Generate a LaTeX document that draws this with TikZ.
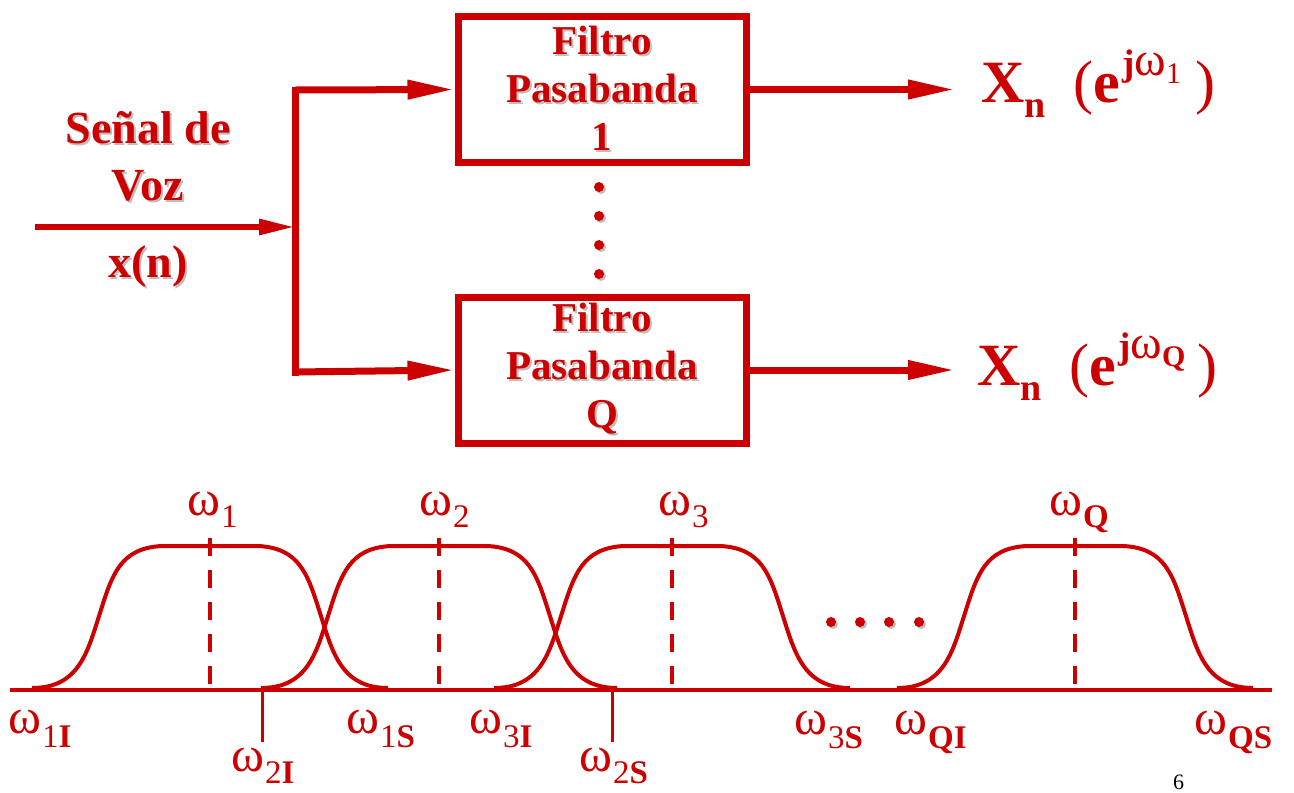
\documentclass[tikz,border=0pt]{standalone}
\usepackage{fontspec}
\setmainfont{Liberation Serif}
\usetikzlibrary{arrows.meta}
\definecolor{rd}{HTML}{CC0000}
\definecolor{shd}{HTML}{BEBEBE}
\newcommand\shd[1]{\rlap{\kern2pt\raisebox{-2pt}{\textcolor{shd}{#1}}}#1}
\newcommand\wsub[2]{{\fontsize{50}{50}\selectfont ω}\kern1pt\raisebox{-#1}{\fontsize{33}{33}\selectfont #2}}
\begin{document}
\begin{tikzpicture}[x=1pt,y=-1pt,
  fbox/.style={draw=rd, line width=7pt, minimum width=288pt, minimum height=146pt,
    inner sep=0pt, align=center, text=rd, font=\fontsize{41}{48}\selectfont\bfseries},
  wire/.style={draw=rd, line width=7pt},
  bigtip/.style={-{Triangle[length=47pt,width=18pt]}},
  intext/.style={text=rd, inner sep=0pt, align=center, font=\fontsize{46}{57}\selectfont\bfseries},
  outlbl/.style={text=rd, inner sep=0pt, anchor=base west, font=\fontsize{60}{60}\selectfont\bfseries},
  wlab/.style={text=rd, inner sep=0pt, anchor=base west},
  curve/.style={draw=rd, line width=4pt},
  centerline/.style={draw=rd, line width=4pt, dash pattern=on 18pt off 14pt},
  tickline/.style={draw=rd, line width=3pt},
  dotc/.style={fill=rd},
  dots/.style={fill=shd}
]
\useasboundingbox (0,0) rectangle (1294,793);

% filter boxes
\node[fbox] (f1) at (602,89.5) {\shd{Filtro}\\\shd{Pasabanda}\\\shd{1}};
\node[fbox] (f2) at (602,370) {\shd{Filtro}\\\shd{Pasabanda}\\\shd{Q}};

% input label
\node[intext, anchor=south] (sig) at (148,203) {\shd{Señal de}\\\shd{Voz}};
\node[intext, anchor=base] (xn) at (148,277) {\shd{x(n)}};

% input connector and branch
\coordinate (in) at (35,227);
\coordinate (br) at (295,227);
\coordinate (btop) at (295,90);
\coordinate (bbot) at (295,372);
\draw[draw=rd, line width=6pt, -{Triangle[length=36pt,width=15pt]}] (in) -- (br);
\draw[wire, line cap=rect] (btop) -- (bbot);
\draw[wire, bigtip] (btop) -- (f1.west);
\draw[wire, bigtip] (bbot) -- (f2.west);

% outputs
\coordinate (o1) at (955,89.5);
\coordinate (o2) at (955,370);
\draw[wire, bigtip] (f1.east) -- (o1);
\draw[wire, bigtip] (f2.east) -- (o2);
\node[outlbl] (y1) at (981,102) {X\raisebox{-15pt}{\fontsize{38}{38}\selectfont n}\hspace{28pt}{\mdseries(}e\kern2pt\raisebox{27pt}{\fontsize{37}{37}\selectfont j{\mdseries\fontsize{48}{48}\selectfont ω}\raisebox{-8pt}{\mdseries\fontsize{30}{30}\selectfont 1}}\hspace{14pt}{\mdseries)}};
\node[outlbl] (yQ) at (977,385) {X\raisebox{-15pt}{\fontsize{38}{38}\selectfont n}\hspace{28pt}{\mdseries(}e\kern2pt\raisebox{27pt}{\fontsize{37}{37}\selectfont j{\mdseries\fontsize{48}{48}\selectfont ω}\raisebox{-8pt}{\fontsize{30}{30}\selectfont Q}}\hspace{12pt}{\mdseries)}};

% vertical dots between boxes
\foreach \yy in {187,216,245,274} {
  \fill[dots] (601,\yy+2) circle[radius=5pt];
  \fill[dotc] (599,\yy) circle[radius=5pt];
}

% frequency axis
\draw[draw=rd, line width=4.5pt] (10,690) -- (1272,690);

% band-pass responses
\foreach \a in {32,261,494,897} {
  \draw[curve] (\a,688) .. controls ({\a+48},688) and ({\a+56},650) .. ({\a+68},613)
     .. controls ({\a+80},575) and ({\a+88},548) .. ({\a+130},546)
     -- ({\a+226},546)
     .. controls ({\a+268},548) and ({\a+276},575) .. ({\a+288},613)
     .. controls ({\a+300},650) and ({\a+308},688) .. ({\a+356},688);
  \draw[centerline] ({\a+178},538) -- ({\a+178},688);
}

% ticks
\draw[tickline] (262,690) -- (262,742);
\draw[tickline] (612,690) -- (612,742);

% horizontal dots
\foreach \xx in {831,860,889,919} {
  \fill[dots] (\xx+2,624) circle[radius=5pt];
  \fill[dotc] (\xx,622) circle[radius=5pt];
}

% centre frequency labels
\node[wlab] (w1) at (187,515) {\wsub{12pt}{1}};
\node[wlab] (w2) at (419,515) {\wsub{12pt}{2}};
\node[wlab] (w3) at (658,515) {\wsub{12pt}{3}};
\node[wlab] (wQ) at (1049,515) {\wsub{12pt}{\textbf{Q}}};

% band edge labels
\node[wlab] (w1I) at (8,733) {\wsub{14pt}{1\textbf{I}}};
\node[wlab] (w2I) at (231,771) {\wsub{12pt}{2\textbf{I}}};
\node[wlab] (w1S) at (346,733) {\wsub{14pt}{1\textbf{S}}};
\node[wlab] (w3I) at (469,733) {\wsub{14pt}{3\textbf{I}}};
\node[wlab] (w2S) at (579,771) {\wsub{12pt}{2\textbf{S}}};
\node[wlab] (w3S) at (794,734) {\wsub{14pt}{3\textbf{S}}};
\node[wlab] (wQI) at (894,734) {\wsub{14pt}{\textbf{QI}}};
\node[wlab] (wQS) at (1194,734) {\wsub{14pt}{\textbf{QS}}};

% page number
\node[inner sep=0pt, anchor=base west, font=\fontsize{22}{22}\selectfont] (pg) at (1173,789) {6};
\end{tikzpicture}
\end{document}
